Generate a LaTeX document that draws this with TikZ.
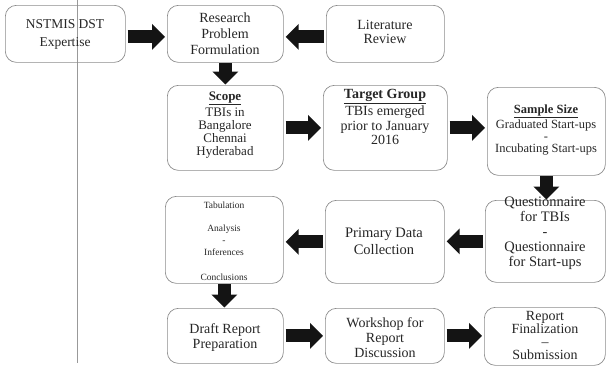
\documentclass[tikz,border=0pt]{standalone}
\usepackage{fontspec}
\setmainfont{Liberation Serif}
\usetikzlibrary{arrows.meta}
\newcommand{\hd}[1]{\underline{\textbf{#1}}}
\begin{document}
\begin{tikzpicture}[x=1pt,y=-1pt,
  box/.style={draw=black!45, line width=0.7pt, rounded corners=11pt, inner sep=0pt, anchor=north west},
  txt/.style={align=center, text=black!85, inner sep=0pt},
  flow/.style={line width=13pt, -{Triangle[width=25pt,length=13pt]}, draw=black!92, shorten >=2pt, shorten <=2pt}]
\useasboundingbox (0,0) rectangle (607,368);
\draw[black!40, line width=0.6pt] (77,0) -- (77,363);
% boxes
\node[box, minimum width=120pt, minimum height=57pt] (nst) at (5,5) {};
\node[box, minimum width=116pt, minimum height=57pt] (research) at (167,5) {};
\node[box, minimum width=118pt, minimum height=57pt] (lit) at (326,5) {};
\node[box, minimum width=116pt, minimum height=85pt] (scope) at (167,85) {};
\node[box, minimum width=124pt, minimum height=85pt] (target) at (323,85) {};
\node[box, minimum width=118pt, minimum height=88pt] (sample) at (487,87) {};
\node[box, minimum width=120pt, minimum height=82pt] (quest) at (485,200) {};
\node[box, minimum width=119pt, minimum height=83pt] (primary) at (325,200) {};
\node[box, minimum width=118pt, minimum height=87pt] (tab) at (165,196) {};
\node[box, minimum width=116pt, minimum height=55pt] (draft) at (167,308) {};
\node[box, minimum width=119pt, minimum height=55pt] (workshop) at (325,308) {};
\node[box, minimum width=121pt, minimum height=58pt] (final) at (484,307) {};
% texts
\node[txt, font=\fontsize{13.5}{18}\selectfont] (nst-t) at (65,34) {NSTMIS DST\\Expertise};
\node[txt, font=\fontsize{14}{16}\selectfont] (research-t) at (225,34) {Research\\Problem\\Formulation};
\node[txt, font=\fontsize{14}{14}\selectfont] (lit-t) at (385,32) {Literature\\Review};
\node[txt, font=\fontsize{13}{13}\selectfont] (scope-t) at (225,125) {\hd{Scope}\\[1.5pt]TBIs in\\Bangalore\\Chennai\\Hyderabad};
\node[txt, font=\fontsize{14}{14.5}\selectfont] (target-t) at (385,117) {\hd{Target Group}\\[1.5pt]TBIs emerged\\prior to January\\2016};
\node[txt, font=\fontsize{12.5}{12}\selectfont] (sample-t) at (546,130) {\hd{Sample Size}\\[1pt]Graduated Start-ups\\-\\Incubating Start-ups};
\node[txt, font=\fontsize{14.5}{15}\selectfont] (quest-t) at (545,233) {Questionnaire\\for TBIs\\-\\Questionnaire\\for Start-ups};
\node[txt, font=\fontsize{14.5}{17}\selectfont] (primary-t) at (384,241.5) {Primary Data\\Collection};
\node[txt, font=\fontsize{9.5}{12}\selectfont] (tab-t) at (224,241.5) {Tabulation\\[11pt]Analysis\\-\\Inferences\\[13pt]Conclusions};
\node[txt, font=\fontsize{14}{15}\selectfont] (draft-t) at (225,337.5) {Draft Report\\Preparation};
\node[txt, font=\fontsize{14}{15}\selectfont] (workshop-t) at (385,338) {Workshop for\\Report\\Discussion};
\node[txt, font=\fontsize{14}{13}\selectfont] (final-t) at (545,335) {Report\\Finalization\\--\\Submission};
% arrows
\draw[flow] ([yshift=-3pt]nst.east) -- ([yshift=-3pt]research.west);
\draw[flow] ([yshift=-3pt]lit.west) -- ([yshift=-3pt]research.east);
\draw[flow, shorten <=0.5pt, shorten >=0.5pt] (research.south) -- (research.south |- scope.north);
\draw[flow] (scope.east) -- (scope.east -| target.west);
\draw[flow] (target.east) -- (target.east -| sample.west);
\draw[flow, shorten <=0.5pt, shorten >=0.5pt] (sample.south) -- (sample.south |- quest.north);
\draw[flow] (quest.west) -- (quest.west -| primary.east);
\draw[flow] (primary.west) -- (primary.west -| tab.east);
\draw[flow, shorten <=0.5pt, shorten >=0.5pt] (tab.south) -- (tab.south |- draft.north);
\draw[flow] (draft.east) -- (draft.east -| workshop.west);
\draw[flow] (workshop.east) -- (workshop.east -| final.west);
\end{tikzpicture}
\end{document}
